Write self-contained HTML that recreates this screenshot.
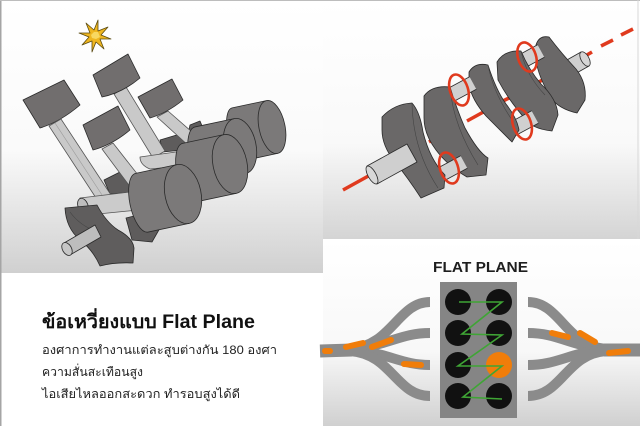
<!DOCTYPE html>
<html><head><meta charset="utf-8">
<style>
html,body{margin:0;padding:0;background:#fff;}
svg{display:block;}
</style></head><body>
<svg width="640" height="426" viewBox="0 0 640 426" xmlns="http://www.w3.org/2000/svg">
<defs>
<linearGradient id="gtl" x1="0" y1="0" x2="0" y2="1">
<stop offset="0" stop-color="#ffffff"/><stop offset="0.55" stop-color="#fafafa"/><stop offset="1" stop-color="#d0d0d0"/>
</linearGradient>
<linearGradient id="gtr" x1="0" y1="0" x2="0" y2="1">
<stop offset="0" stop-color="#ffffff"/><stop offset="0.6" stop-color="#f9f9f9"/><stop offset="1" stop-color="#d4d4d4"/>
</linearGradient>
<linearGradient id="gbr" x1="0" y1="0" x2="0" y2="1">
<stop offset="0" stop-color="#ffffff"/><stop offset="0.6" stop-color="#f8f8f8"/><stop offset="1" stop-color="#d0d0d0"/>
</linearGradient>
</defs>

<rect width="640" height="426" fill="#fff"/>
<rect x="0" y="0" width="323" height="273" fill="url(#gtl)"/>
<rect x="323" y="0" width="317" height="239" fill="url(#gtr)"/>
<rect x="323" y="240" width="317" height="186" fill="url(#gbr)"/>
<rect x="0" y="0" width="1.5" height="426" fill="#a5a5a5"/>
<rect x="0" y="0" width="640" height="1" fill="#bdbdbd"/>
<rect x="637.5" y="0" width="1" height="239" fill="#d8d8d8"/>

<!-- ============ ENGINE (top-left) ============ -->
<g stroke="#2a2a2a" stroke-width="0.8" stroke-linejoin="round">
<!-- star -->
<polygon points="111,39 100,39 104,49 96,42 92,52 92,41 82,45 89,37 79,33 90,33 86,23 94,30 98,20 98,31 108,27 101,35" fill="#efb61f" stroke="#5a4a10"/>
<polygon points="100,37 96,39 92,38 91,35 94,32 98,32" fill="#f8d860" stroke="none"/>

<!-- back crank webs -->
<path d="M190,125 L200,121 L205,133 L196,140 L188,134 Z" fill="#5e5c5c"/>
<path d="M160,140 L180,134 L190,142 L183,150 L163,152 Z" fill="#5e5c5c"/>
<path d="M104,180 L120,172 L132,178 L134,192 L110,194 Z" fill="#5e5c5c"/>
<path d="M126,218 L150,212 L160,228 L152,242 L132,240 Z" fill="#5e5c5c"/>

<!-- rods back -->
<polygon points="157,117 168,111 200,139 190,147" fill="#c9c9c9" stroke="#555"/>
<polygon points="114,94 126,87 165,151 153,158" fill="#c9c9c9" stroke="#555"/>

<!-- pistons -->
<path d="M138,97 L172,79 L183,100 Q167,113 150,118 Z" fill="#716e6e"/>
<path d="M93,75 L128,54 L140,78 Q122,93 102,97 Z" fill="#716e6e"/>
<path d="M23,100 L64,80 L80,105 Q60,122 40,128 Z" fill="#716e6e"/>

<!-- rod 1 -->
<polygon points="49,126 61,119 111,195 98,201" fill="#c9c9c9" stroke="#555"/>
<line x1="55" y1="123" x2="104" y2="198" stroke="#9a9a9a" stroke-width="0.6"/>

<!-- piston 4 and rod 4 -->
<polygon points="102,149 113,143 149,189 137,196" fill="#c9c9c9" stroke="#555"/>
<path d="M83,125 L118,106 L130,130 Q112,145 93,150 Z" fill="#716e6e"/>

<!-- upper bar -->
<path d="M140,157 L190,150 L192,165 L150,169 Q140,165 140,157 Z" fill="#cbcbcb" stroke="#555"/>

<!-- cylinders right bank -->
<g transform="translate(272,127) rotate(-12)">
<path d="M-35,-27 L0,-27 A13,27 0 0 1 0,27 L-35,27 A10,27 0 0 1 -35,-27 Z" fill="#7b7979"/>
<path d="M0,-27 A13,27 0 0 0 0,27" fill="none"/>
</g>
<g transform="translate(240,146) rotate(-12)">
<path d="M-40,-28 L0,-28 A16,28 0 0 1 0,28 L-40,28 A12,28 0 0 1 -40,-28 Z" fill="#7b7979"/>
<path d="M0,-28 A16,28 0 0 0 0,28" fill="none"/>
</g>
<g transform="translate(230,164) rotate(-12)">
<path d="M-42,-30 L0,-30 A17,30 0 0 1 0,30 L-42,30 A12,30 0 0 1 -42,-30 Z" fill="#7b7979"/>
<path d="M0,-30 A17,30 0 0 0 0,30" fill="none"/>
</g>

<!-- lower bar -->
<path d="M80,198 L147,190 L148,209 L88,215 Q76,210 80,198 Z" fill="#cbcbcb" stroke="#555"/>
<ellipse cx="83" cy="206" rx="5" ry="8" fill="#bdbdbd" transform="rotate(-20 83 206)"/>

<g transform="translate(183,194) rotate(-12)">
<path d="M-42,-30 L0,-30 A18,30 0 0 1 0,30 L-42,30 A12,30 0 0 1 -42,-30 Z" fill="#7b7979"/>
<path d="M0,-30 A18,30 0 0 0 0,30" fill="none"/>
</g>

<!-- front crank web -->
<path d="M65,208 L97,205 Q106,222 118,230 Q133,238 134,248 L133,263 Q115,262 100,266 Q93,250 80,240 Q66,228 65,208 Z" fill="#5f5d5d"/>
<path d="M70,212 Q80,226 98,232" fill="none" stroke="#444" stroke-width="0.6"/>
<!-- shaft stub -->
<polygon points="64,243 95,225 101,237 70,255" fill="#bdbdbd"/>
<ellipse cx="67" cy="249" rx="4.5" ry="7" fill="#c6c6c6" transform="rotate(-30 67 249)"/>
</g>

<!-- ============ CRANKSHAFT (top-right) ============ -->
<g stroke-linecap="butt">
<line x1="343" y1="190" x2="372" y2="174" stroke="#e03a1e" stroke-width="3.5"/>
<line x1="429" y1="142" x2="448" y2="131" stroke="#e03a1e" stroke-width="3.5"/>
<line x1="467" y1="121" x2="487" y2="110" stroke="#e03a1e" stroke-width="3.5"/>
<line x1="503" y1="101" x2="517" y2="94" stroke="#e03a1e" stroke-width="3.5"/>
<line x1="537" y1="83" x2="546" y2="78" stroke="#e03a1e" stroke-width="3.5"/>
<line x1="580" y1="59" x2="592" y2="52" stroke="#e03a1e" stroke-width="3.5"/>
<line x1="601" y1="46" x2="613" y2="40" stroke="#e03a1e" stroke-width="3.5"/>
<line x1="621" y1="35" x2="633" y2="29" stroke="#e03a1e" stroke-width="3.5"/>
</g>
<g stroke="#2a2a2a" stroke-width="0.8" stroke-linejoin="round">
<!-- right stub -->
<polygon points="558,65 581,52 589,66 566,79" fill="#cfcfcf"/>
<ellipse cx="585" cy="59" rx="4" ry="8" fill="#d6d6d6" transform="rotate(-29 585 59)"/>
<!-- W5 -->
<path d="M536,45 Q539,35 549,37 Q562,54 576,69 Q587,83 585,100 L577,113 Q559,109 551,98 Q538,76 536,60 Z" fill="#6a6868"/>
<!-- pin4 -->
<line x1="517" y1="64" x2="541" y2="51" stroke="#2a2a2a" stroke-width="15"/>
<line x1="517" y1="64" x2="541" y2="51" stroke="#d0d0d0" stroke-width="13.4"/>
<!-- W4 -->
<path d="M497,62 Q504,50 521,51 Q529,70 541,84 Q557,99 558,115 L552,131 Q534,129 527,121 Q509,101 498,80 Z" fill="#6a6868"/>
<path d="M521,51 Q526,75 545,95" fill="none" stroke="#444" stroke-width="0.6"/>
<!-- pin3 -->
<line x1="509" y1="131" x2="535" y2="117" stroke="#2a2a2a" stroke-width="15"/>
<line x1="509" y1="131" x2="535" y2="117" stroke="#d0d0d0" stroke-width="13.4"/>
<!-- W3 -->
<path d="M469,72 Q475,62 488,65 Q496,90 506,104 Q517,118 519,130 L512,142 Q497,127 486,116 Q472,100 469,85 Z" fill="#6a6868"/>
<path d="M488,65 Q493,92 512,120" fill="none" stroke="#444" stroke-width="0.6"/>
<!-- pin2 -->
<line x1="447" y1="97" x2="473" y2="83" stroke="#2a2a2a" stroke-width="15"/>
<line x1="447" y1="97" x2="473" y2="83" stroke="#d0d0d0" stroke-width="13.4"/>
<!-- W2 -->
<path d="M424,96 Q432,85 450,87 Q457,110 465,128 Q478,152 488,158 L486,175 L467,177 Q448,166 436,150 Q424,134 424,118 Z" fill="#6a6868"/>
<path d="M450,87 Q453,125 478,165" fill="none" stroke="#444" stroke-width="0.6"/>
<!-- pin1 -->
<line x1="438" y1="176" x2="464" y2="162" stroke="#2a2a2a" stroke-width="15"/>
<line x1="438" y1="176" x2="464" y2="162" stroke="#d0d0d0" stroke-width="13.4"/>
<!-- W1 -->
<path d="M382,117 Q394,104 412,103 Q420,112 423,132 Q430,160 445,175 L444,188 L421,198 Q408,178 395,162 Q382,146 382,130 Z" fill="#6a6868"/>
<path d="M412,103 Q413,150 438,188" fill="none" stroke="#444" stroke-width="0.6"/>
<!-- left stub -->
<polygon points="367,166 407,144 417,162 377,184" fill="#cfcfcf"/>
<ellipse cx="372" cy="175" rx="4" ry="10" fill="#d8d8d8" transform="rotate(-29 372 175)"/>
</g>
<!-- red rings -->
<g fill="none" stroke="#e03a1e" stroke-width="2.6">
<ellipse cx="449" cy="168" rx="9" ry="16" transform="rotate(-18 449 168)"/>
<ellipse cx="459" cy="90" rx="9" ry="16" transform="rotate(-18 459 90)"/>
<ellipse cx="522" cy="124" rx="9" ry="16" transform="rotate(-18 522 124)"/>
<ellipse cx="527" cy="57" rx="9" ry="15" transform="rotate(-18 527 57)"/>
</g>

<!-- ============ FLAT PLANE (bottom-right) ============ -->
<text x="433" y="272" font-family="'Liberation Sans', sans-serif" font-weight="bold" font-size="14.5" fill="#1e1e1e" textLength="95" lengthAdjust="spacingAndGlyphs">FLAT PLANE</text>

<g fill="none" stroke="#8b8b8b" stroke-width="10">
<path d="M430,302 C398,302 392,346 350,349"/>
<path d="M430,333 C400,333 388,346 350,349"/>
<path d="M430,365 C400,365 388,352 350,350"/>
<path d="M430,396 C396,396 392,354 350,351"/>
<path d="M352,350 L320,351" stroke-width="13"/>
<path d="M528,302 C560,302 566,346 606,349"/>
<path d="M528,333 C558,333 570,346 606,349"/>
<path d="M528,365 C558,365 570,352 606,350"/>
<path d="M528,396 C562,396 566,354 606,351"/>
<path d="M604,350 L640,350" stroke-width="13"/>
</g>
<g stroke="#f07d0a" stroke-width="6" stroke-linecap="round">
<line x1="325" y1="351" x2="330" y2="351"/>
<line x1="346" y1="347" x2="363" y2="343"/>
<line x1="372" y1="347" x2="391" y2="340"/>
<line x1="404" y1="364" x2="421" y2="365"/>
<line x1="552" y1="333" x2="568" y2="337"/>
<line x1="580" y1="333" x2="595" y2="342"/>
<line x1="609" y1="353" x2="628" y2="351"/>
</g>

<rect x="440" y="282" width="77" height="136" fill="#858585"/>
<g fill="#111">
<circle cx="458" cy="302" r="13"/><circle cx="499" cy="302" r="13"/>
<circle cx="458" cy="333" r="13"/><circle cx="499" cy="333" r="13"/>
<circle cx="458" cy="365" r="13"/>
<circle cx="458" cy="396" r="13"/><circle cx="499" cy="396" r="13"/>
</g>
<circle cx="499" cy="365" r="13" fill="#f07d0a"/>
<polyline points="459,302 502,302 462,334 502,335 458,366 502,366 463,397 502,399" fill="none" stroke="#3fa535" stroke-width="1.6"/>

<!-- ============ TEXT (bottom-left) ============ -->
<text x="42" y="328" font-family="'Liberation Sans', 'DejaVu Sans', sans-serif" font-weight="bold" font-size="19" fill="#111" textLength="213" lengthAdjust="spacingAndGlyphs">ข้อเหวี่ยงแบบ Flat Plane</text>
<text x="42" y="354" font-family="'Liberation Sans', 'DejaVu Sans', sans-serif" font-size="12" fill="#222" textLength="235" lengthAdjust="spacingAndGlyphs">องศาการทำงานแต่ละสูบต่างกัน 180 องศา</text>
<text x="42" y="376" font-family="'Liberation Sans', 'DejaVu Sans', sans-serif" font-size="12" fill="#222" textLength="101" lengthAdjust="spacingAndGlyphs">ความสั่นสะเทือนสูง</text>
<text x="42" y="398" font-family="'Liberation Sans', 'DejaVu Sans', sans-serif" font-size="12" fill="#222" textLength="198" lengthAdjust="spacingAndGlyphs">ไอเสียไหลออกสะดวก ทำรอบสูงได้ดี</text>
</svg>
</body></html>
